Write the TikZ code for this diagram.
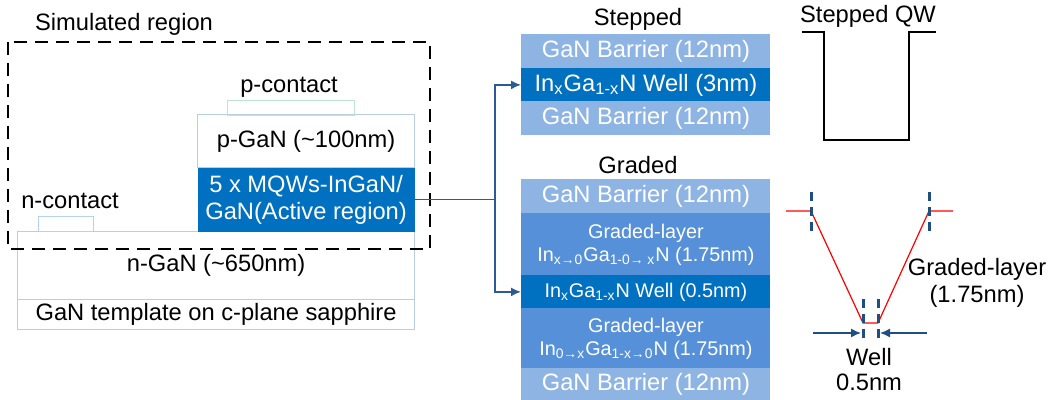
\documentclass[tikz,border=0pt]{standalone}
\usepackage{fontspec}
\setmainfont{Liberation Sans}
\usetikzlibrary{arrows.meta}
\definecolor{barrier}{HTML}{8EB4E3}
\definecolor{graded}{HTML}{5590D8}
\definecolor{wellblue}{HTML}{0070C0}
\definecolor{edge}{HTML}{B9CDE5}
\definecolor{padgreen}{HTML}{BDE5CF}
\definecolor{padblue}{HTML}{B4D2EC}
\definecolor{linkblue}{HTML}{2C5A92}
\definecolor{tickblue}{HTML}{1F4E82}
\newcommand{\bigtxt}{\fontsize{11.85}{13.5}\selectfont}
\newcommand{\smalltxt}{\fontsize{9.9}{11.5}\selectfont}
\newcommand{\sbs}[1]{\textsubscript{#1}}
\tikzset{
  layer/.style={draw=edge,line width=0.6pt,inner sep=0pt,anchor=north west,
    align=center,font=\bigtxt},
  slab/.style={inner sep=0pt,anchor=north west,align=center,text=white,
    minimum width=124.5pt,font=\bigtxt},
  pad/.style={line width=0.6pt,inner sep=0pt,anchor=north west,minimum height=7.5pt},
  lbl/.style={font=\bigtxt,align=center,inner sep=0pt},
  link/.style={linkblue,line width=0.8pt},
  bound/.style={tickblue,line width=1.5pt,dash pattern=on 4.5pt off 3pt},
  dim/.style={tickblue,line width=0.7pt,-{Latex[length=5pt,width=4.5pt]}},
}
\begin{document}
\begin{tikzpicture}[x=0.5pt,y=-0.5pt]
\useasboundingbox (0,0) rectangle (1050,400);
%
% LED cross-section
\node[layer,fill=white,minimum width=198.5pt,minimum height=34pt] (ngan) at (17,231) {n-GaN (\textasciitilde650nm)};
\node[layer,fill=white,minimum width=198.5pt,minimum height=15pt] (tmpl) at (17,299) {GaN template on c-plane sapphire};
\node[layer,fill=white,minimum width=108.5pt,minimum height=26.5pt] (pgan) at (197,114) {p-GaN (\textasciitilde100nm)};
\node[layer,draw=none,fill=wellblue,text=white,minimum width=108.5pt,minimum height=32pt] (mqw) at (197,167) {5 x MQWs-InGaN/\\GaN(Active region)};
\node[pad,draw=padgreen,minimum width=63.5pt] (pcon) at (227,100) {};
\node[pad,draw=padblue,minimum width=27.5pt] (ncon) at (38,216) {};
\node[lbl] (pconlbl) at (289,87) {p-contact};
\node[lbl] (nconlbl) at (70,201) {n-contact};
\draw[line width=1pt,dash pattern=on 6.5pt off 4pt] (8,42) rectangle (430,249);
\node[lbl] (simlbl) at (124,24) {Simulated region};
%
% stepped stack
\node[lbl] (steplbl) at (638,19) {Stepped};
\node[slab,fill=barrier,minimum height=17pt] (sb1) at (521,34) {GaN Barrier (12nm)};
\node[slab,fill=wellblue,minimum height=16.5pt] (sw) at (521,68) {In\sbs{x}Ga\sbs{1-x}N Well (3nm)};
\node[slab,fill=barrier,minimum height=17pt] (sb2) at (521,101) {GaN Barrier (12nm)};
%
% graded stack
\node[lbl] (gradlbl) at (638,165) {Graded};
\node[slab,fill=barrier,minimum height=17pt] (gb1) at (521,179) {GaN Barrier (12nm)};
\node[slab,fill=graded,minimum height=31pt,font=\smalltxt] (gl1) at (521,213) {Graded-layer\\In\sbs{x→0}Ga\sbs{1-0→ x}N (1.75nm)};
\node[slab,fill=wellblue,minimum height=16.5pt,font=\smalltxt] (gw) at (521,275) {In\sbs{x}Ga\sbs{1-x}N Well (0.5nm)};
\node[slab,fill=graded,minimum height=30pt,font=\smalltxt] (gl2) at (521,308) {Graded-layer\\In\sbs{0→x}Ga\sbs{1-x→0}N (1.75nm)};
\node[slab,fill=barrier,minimum height=16pt] (gb2) at (521,368) {GaN Barrier (12nm)};
%
\coordinate (jn) at (495,0);
\draw[link] (mqw.east) -- (mqw.east -| jn);
\draw[link,-{Latex[length=5pt,width=4.5pt]}] (mqw.east -| jn) |- (sw.west);
\draw[link,-{Latex[length=5pt,width=4.5pt]}] (mqw.east -| jn) |- (gw.west);
%
% band profiles
\node[lbl] (qwlbl) at (868,16) {Stepped QW};
\draw[line width=0.75pt] (802,32) -- (824,32) -- (824,140) -- (909,140) -- (909,32) -- (936,32);
\draw[red,line width=0.6pt] (786,211) -- (811,211) -- (863,323) -- (878,323) -- (929,211) -- (953,211);
\foreach \x in {811,929} \draw[bound] (\x,192) -- (\x,236);
\foreach \x in {863,878} \draw[bound] (\x,299) -- (\x,343);
\draw[dim] (813,333) -- (861,333);
\draw[dim] (927,333) -- (880,333);
\node[lbl] (welllbl) at (869,370) {Well\\[-1pt]0.5nm};
\node[lbl] (gradlyr) at (977,283) {Graded-layer\\(1.75nm)};
\end{tikzpicture}
\end{document}
